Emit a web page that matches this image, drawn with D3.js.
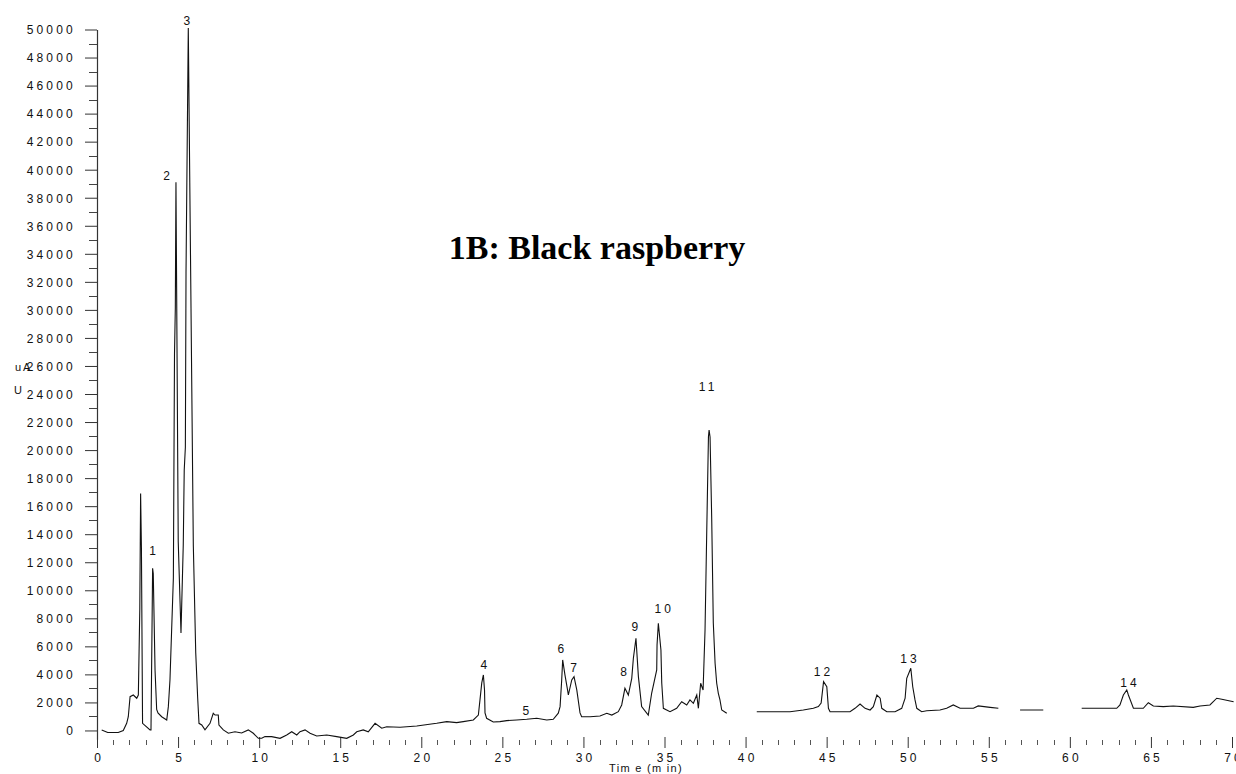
<!DOCTYPE html>
<html>
<head>
<meta charset="utf-8">
<script src="https://cdn.jsdelivr.net/npm/d3@7"></script>
<style>
  body { margin: 0; background: #fff; }
  svg { display: block; }
  .tick text, .lbl { font-family: "Liberation Sans", Arial, sans-serif; font-size: 12px; letter-spacing: 3.2px; fill: #111; }
</style>
</head>
<body>
<svg width="1236" height="774"></svg>
<script>
// Chromatogram trace: time (min) and detector signal (uA).
// null marks the places where the scanned trace is broken.
var timeMin = [0.29, 0.66, 1.31, 1.62, 1.83, 1.93, 2.04, 2.24, 2.45, 2.55, 2.64, 2.69, 2.74, 2.81, 3.27,
  3.33, 3.35, 3.43, 3.47, 3.58, 3.68, 3.76, 3.99, 4.30, 4.40, 4.50, 4.71, 4.78, 4.83, 4.87, 5.01, 5.18,
  5.32, 5.38, 5.45, 5.49, 5.63, 5.94, 6.09, 6.21, 6.29, 6.46, 6.66, 6.97, 7.17, 7.28, 7.48, 7.52, 7.79,
  8.10, 8.51, 8.92, 9.33, 9.64, 9.95, 10.16, 10.36, 10.77, 11.29, 11.70, 12.01, 12.32, 12.52, 12.83,
  13.14, 13.55, 14.17, 14.78, 15.40, 15.81, 16.02, 16.42, 16.73, 17.15, 17.56, 17.87, 18.69, 19.72,
  20.95, 21.57, 22.18, 22.59, 23.21, 23.52, 23.62, 23.73, 23.83, 23.90, 23.93, 24.03, 24.44, 24.85,
  25.27, 25.88, 26.50, 27.12, 27.74, 28.14, 28.45, 28.56, 28.66, 28.72, 28.86, 29.02, 29.07, 29.28,
  29.42, 29.59, 29.79, 29.89, 30.41, 31.02, 31.44, 31.75, 32.15, 32.36, 32.56, 32.77, 32.98, 33.08,
  33.24, 33.39, 33.59, 34.00, 34.21, 34.52, 34.54, 34.62, 34.78, 34.83, 34.93, 35.34, 35.75, 36.06,
  36.37, 36.57, 36.78, 36.99, 37.09, 37.23, 37.38, 37.50, 37.61, 37.71, 37.75, 37.81, 37.91, 38.01,
  38.12, 38.22, 38.32, 38.42, 38.53, 38.84, 39.8,
  40.69, 42.74, 43.56, 44.18, 44.49, 44.66, 44.81, 45.01, 45.11, 45.21, 46.44, 46.75, 47.06, 47.37,
  47.68, 47.88, 48.10, 48.30, 48.40, 48.71, 49.22, 49.63, 49.84, 49.94, 50.19, 50.31, 50.45, 50.56,
  50.86, 51.17, 51.99, 52.40, 52.81, 53.23, 54.05, 54.35, 55.08, 55.59, 56.2,
  56.93, 58.36, 59.5,
  60.73, 61.66, 62.89, 63.09, 63.30, 63.51, 63.61, 63.92, 64.53, 64.84, 65.15, 65.76, 66.38, 67.61,
  68.03, 68.64, 69.06, 69.37, 70.10];
var signalUA = [30, -150, -150, 0, 510, 980, 2410, 2530, 2300, 2530, 8700, 16900, 13000, 510, 40,
  40, 2400, 11570, 11200, 4300, 1500, 1250, 980, 750, 1700, 3600, 10880, 26870, 30110, 39100, 13470, 6950,
  13230, 18580, 20200, 32630, 50100, 13230, 5530, 2300, 510, 390, 40, 510, 1230, 1100, 1100, 390, 40,
  -200, -90, -180, 40, -200, -560, -560, -440, -440, -560, -320, -90, -320, -90, 40,
  -200, -390, -320, -440, -560, -320, -90, 40, -90, 510, 160, 270, 230, 320,
  510, 630, 560, 630, 750, 1100, 2180, 3390, 3960, 2890, 1250, 870, 600, 630,
  700, 750, 800, 870, 750, 800, 1230, 1700, 3600, 5030, 3960, 2890, 2530, 3600,
  3840, 2890, 1250, 980, 980, 1030, 1230, 1100, 1340, 1820, 3010, 2530, 3720, 5150,
  6580, 3840, 1700, 1100, 2670, 4320, 6100, 7650, 5740, 3390, 1580, 1340, 1580, 2050,
  1820, 2180, 1940, 2530, 1580, 3370, 2890, 7170, 14510, 20930, 21430, 20930, 15230, 7670,
  4790, 3370, 2650, 2180, 1460, 1230, null,
  1340, 1340, 1460, 1580, 1700, 1960, 3480, 3120, 1580, 1340, 1340, 1580, 1890, 1580,
  1460, 1700, 2530, 2300, 1580, 1340, 1340, 1580, 2300, 3720, 4440, 3120, 2180, 1580,
  1340, 1410, 1460, 1580, 1820, 1580, 1580, 1750, 1650, 1580, null,
  1460, 1460, null,
  1580, 1580, 1580, 1820, 2530, 2890, 2530, 1580, 1580, 1980, 1750, 1700, 1750, 1650,
  1750, 1820, 2300, 2230, 2050];

// Peak numbers and where their labels sit (time, uA at label baseline).
var peakIds = ["1", "2", "3", "4", "5", "6", "7", "8", "9", "10", "11", "12", "13", "14"];
var peakTime = [3.43, 4.30, 5.55, 23.87, 26.45, 28.62, 29.40, 32.48, 33.18, 34.90, 37.60, 44.72, 50.05, 63.62];
var peakLabelUA = [12500, 39300, 50300, 4370, 1070, 5500, 4200, 3900, 7100, 8400, 24200, 3900, 4800, 3100];

var xTicksMajor = d3.range(0, 71, 5);
var xTicksMinor = d3.range(0, 71, 1);
var yTicksMajor = d3.range(0, 50001, 2000);
var yTicksMinor = d3.range(1000, 50000, 2000);

var svg = d3.select("svg");

var x = d3.scaleLinear().domain([0, 70]).range([97, 1232]);
var y = d3.scaleLinear().domain([-630, 50000]).range([739.3, 29.5]);

// y axis
var yAxis = svg.append("g")
    .attr("transform", "translate(97,0)")
    .call(d3.axisLeft(y).tickValues(yTicksMajor).tickFormat(d3.format("d"))
      .tickSize(12).tickSizeOuter(0).tickPadding(9));
yAxis.select(".domain").attr("stroke", "#333").attr("stroke-width", 1.2);
yAxis.selectAll(".tick line").attr("stroke", "#333");
yAxis.selectAll(".tick text").attr("dy", "0.36em");

svg.append("g").selectAll("line")
    .data(yTicksMinor)
    .enter().append("line")
    .attr("x1", 89).attr("x2", 97)
    .attr("y1", function(d) { return Math.round(y(d)) + 0.5; })
    .attr("y2", function(d) { return Math.round(y(d)) + 0.5; })
    .attr("stroke", "#444");

// x axis: ticks only, no baseline
var xAxis = svg.append("g")
    .attr("transform", "translate(0,737)")
    .call(d3.axisBottom(x).tickValues(xTicksMajor).tickFormat(d3.format("d"))
      .tickSize(11).tickSizeOuter(0).tickPadding(5));
xAxis.select(".domain").remove();
xAxis.selectAll(".tick line").attr("stroke", "#333");
xAxis.selectAll(".tick text").attr("dx", "1.6px");

svg.append("g").selectAll("line")
    .data(xTicksMinor.filter(function(d) { return d % 5 !== 0; }))
    .enter().append("line")
    .attr("x1", function(d) { return Math.round(x(d)) + 0.5; })
    .attr("x2", function(d) { return Math.round(x(d)) + 0.5; })
    .attr("y1", 740).attr("y2", 745)
    .attr("stroke", "#555");

svg.append("text")
    .attr("class", "lbl")
    .attr("x", 646).attr("y", 772)
    .attr("text-anchor", "middle")
    .style("font-size", "11px")
    .style("letter-spacing", "1.3px")
    .text("Tim e  (m in)");

svg.append("text").attr("class", "lbl").attr("x", 15).attr("y", 371).style("font-size", "11px").style("letter-spacing", "2px").text("uA");
svg.append("text").attr("class", "lbl").attr("x", 14).attr("y", 394).style("font-size", "11px").text("U");

// title
svg.append("text")
    .attr("x", 597).attr("y", 259)
    .attr("text-anchor", "middle")
    .attr("font-family", "'Liberation Serif', 'Times New Roman', serif")
    .attr("font-weight", "bold")
    .attr("font-size", 34)
    .attr("fill", "#000")
    .text("1B: Black raspberry");

// trace
var line = d3.line()
    .defined(function(d) { return d[1] !== null; })
    .x(function(d) { return x(d[0]); })
    .y(function(d) { return y(d[1]); });

svg.append("path")
    .datum(d3.zip(timeMin, signalUA))
    .attr("d", line)
    .attr("fill", "none")
    .attr("stroke", "#111")
    .attr("stroke-width", 1.1);

// peak labels
svg.append("g").selectAll("text")
    .data(peakIds)
    .enter().append("text")
    .attr("class", "lbl")
    .attr("x", function(d, i) { return x(peakTime[i]) + 1.5; })
    .attr("y", function(d, i) { return y(peakLabelUA[i]); })
    .attr("text-anchor", "middle")
    .text(function(d) { return d; });
</script>
</body>
</html>
